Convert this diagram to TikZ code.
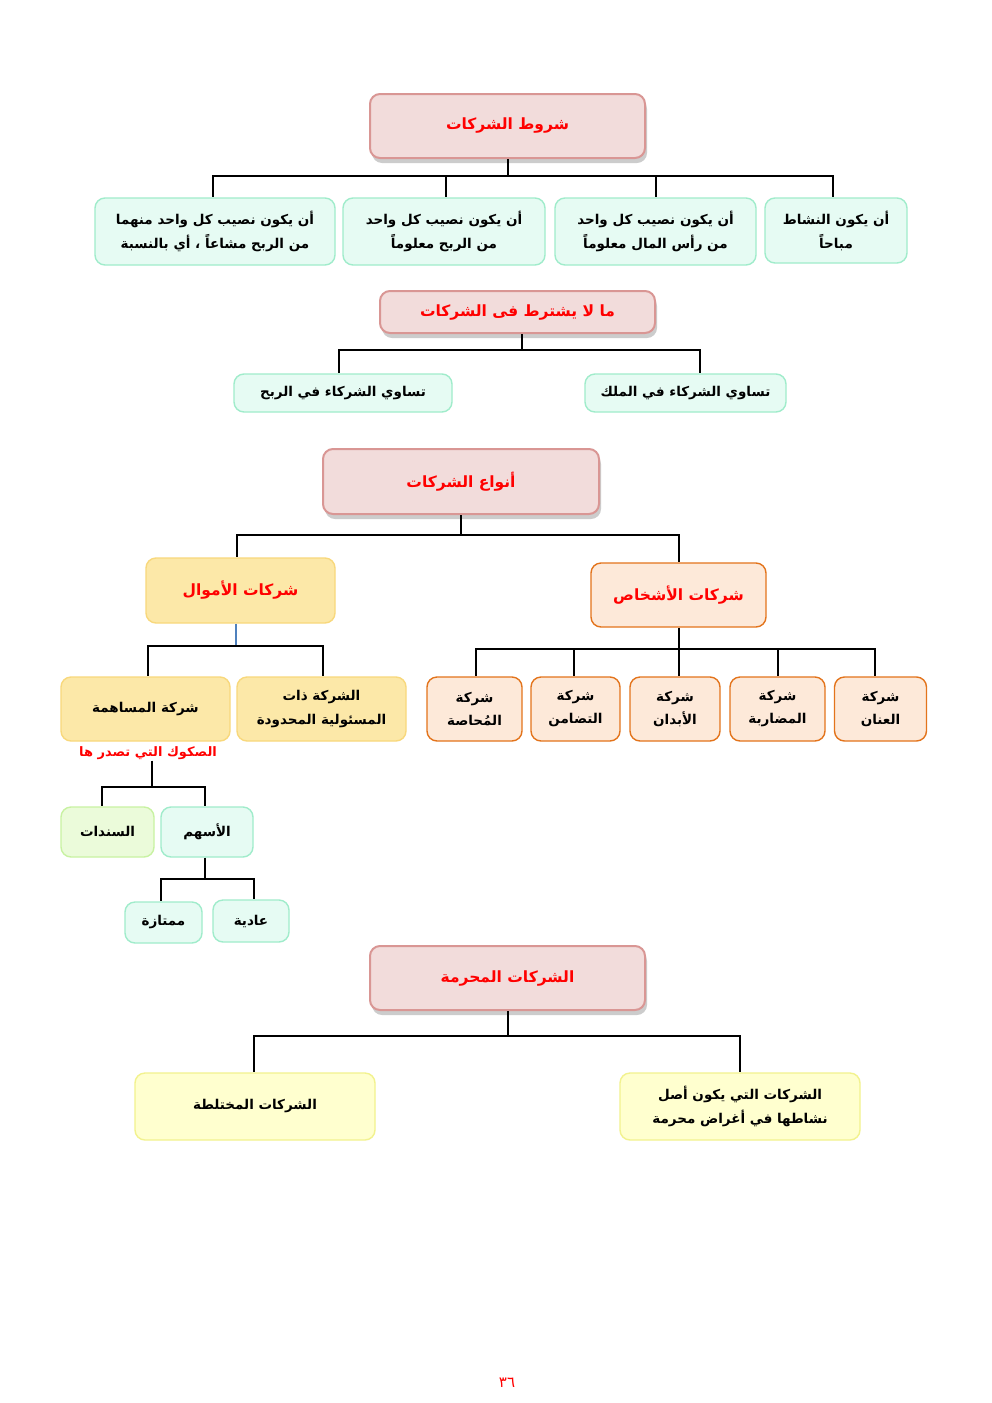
\documentclass[tikz,border=0pt]{standalone}
\usepackage{fontspec}
\usetikzlibrary{shadows}
\TeXXeTstate=1
\newfontfamily\arabicfont[Script=Arabic]{DejaVu Sans}
\newcommand{\ar}[1]{{\arabicfont\bfseries\beginR #1\endR}}
\definecolor{pinkfill}{HTML}{F2DCDB}
\definecolor{pinkdraw}{HTML}{D99694}
\definecolor{mintfill}{HTML}{E6FBF3}
\definecolor{mintdraw}{HTML}{A0ECCB}
\definecolor{goldfill}{HTML}{FCE8A8}
\definecolor{golddraw}{HTML}{F8D87C}
\definecolor{orfill}{HTML}{FDE9D9}
\definecolor{ordraw}{HTML}{E3741C}
\definecolor{grfill}{HTML}{EBFBDA}
\definecolor{grdraw}{HTML}{C8F2A2}
\definecolor{yelfill}{HTML}{FFFFCF}
\definecolor{yeldraw}{HTML}{F2F28E}
\definecolor{redtext}{HTML}{FF0000}
\definecolor{linkblue}{HTML}{4F81BD}
\tikzset{
  basebox/.style={rounded corners=10pt, line width=1.4pt, align=center, inner sep=2pt, font=\fontsize{13.5}{24}\selectfont},
  titlefont/.style={font=\fontsize{15.5}{20}\selectfont},
  titlebox/.style={basebox, fill=pinkfill, draw=pinkdraw, line width=2pt, text=redtext, titlefont,
     drop shadow={opacity=0.4, shadow xshift=2pt, shadow yshift=-5pt}},
  mintbox/.style={basebox, fill=mintfill, draw=mintdraw},
  goldbox/.style={basebox, fill=goldfill, draw=golddraw},
  goldtitle/.style={basebox, fill=goldfill, draw=golddraw, text=redtext, titlefont},
  orbox/.style={basebox, fill=orfill, draw=ordraw, font=\fontsize{13.5}{23}\selectfont},
  ortitle/.style={basebox, fill=orfill, draw=ordraw, text=redtext, titlefont},
  grbox/.style={basebox, fill=grfill, draw=grdraw},
  yelbox/.style={basebox, fill=yelfill, draw=yeldraw},
  link/.style={line width=2pt, black},
  bluelink/.style={line width=1.2pt, linkblue},
}
\begin{document}
\begin{tikzpicture}[x=1pt, y=-1pt]
\useasboundingbox[fill=white] (0,0) rectangle (992,1403);

% --- Section 1
\node[titlebox, minimum width=275pt, minimum height=64pt] (t1) at (507.5,126) {\ar{شروط الشركات}};
\node[mintbox, minimum width=240pt, minimum height=67pt] (c1a) at (215,231.5) {\ar{أن يكون نصيب كل واحد منهما}\\\ar{من الربح مشاعاً ، أي بالنسبة}};
\node[mintbox, minimum width=202pt, minimum height=67pt] (c1b) at (444,231.5) {\ar{أن يكون نصيب كل واحد}\\\ar{من الربح معلوماً}};
\node[mintbox, minimum width=201pt, minimum height=67pt] (c1c) at (655.5,231.5) {\ar{أن يكون نصيب كل واحد}\\\ar{من رأس المال معلوماً}};
\node[mintbox, minimum width=142pt, minimum height=65pt] (c1d) at (836,230.5) {\ar{أن يكون النشاط}\\\ar{مباحاً}};
\coordinate (b1) at (507.5,176);
\draw[link] (t1.south) -- (b1);
\draw[link] (b1) -| ([xshift=-2pt]c1a.north);
\draw[link] (b1) -| ([xshift=2pt]c1b.north);
\draw[link] (b1) -| (c1c.north);
\draw[link] (b1) -| ([xshift=-3pt]c1d.north);

% --- Section 2
\node[titlebox, minimum width=275pt, minimum height=42pt] (t2) at (517.5,312) {\ar{ما لا يشترط فى الشركات}};
\node[mintbox, minimum width=218pt, minimum height=38pt] (c2l) at (343,393) {\ar{تساوي الشركاء في الربح}};
\node[mintbox, minimum width=201pt, minimum height=38pt] (c2r) at (685.5,393) {\ar{تساوي الشركاء في الملك}};
\coordinate (b2) at (522,350);
\draw[link] (t2.south -| b2) -- (b2);
\draw[link] (b2) -| ([xshift=-4pt]c2l.north);
\draw[link] (b2) -| ([xshift=14.5pt]c2r.north);

% --- Section 3
\node[titlebox, minimum width=276pt, minimum height=65pt] (t3) at (461,481.5) {\ar{أنواع الشركات}};
\node[goldtitle, minimum width=189pt, minimum height=65pt] (amwal) at (240.5,590.5) {\ar{شركات الأموال}};
\node[ortitle, minimum width=175pt, minimum height=64pt] (ashkhas) at (678.5,595) {\ar{شركات الأشخاص}};
\coordinate (b3) at (461,535);
\draw[link] (t3.south) -- (b3);
\draw[link] (b3) -| ([xshift=-3.5pt]amwal.north);
\draw[link] (b3) -| (ashkhas.north);

% companies of money
\node[goldbox, minimum width=169pt, minimum height=64pt] (mus) at (145.5,709) {\ar{شركة المساهمة}};
\node[goldbox, minimum width=169pt, minimum height=64pt] (dhat) at (321.5,709) {\ar{الشركة ذات}\\\ar{المسئولية المحدودة}};
\coordinate (b4) at (236,646);
\draw[bluelink] (amwal.south -| b4) -- (b4);
\draw[link] (b4) -| ([xshift=2.5pt]mus.north);
\draw[link] (b4) -| ([xshift=1.5pt]dhat.north);
\node[text=redtext, font=\fontsize{13}{16}\selectfont, inner sep=1pt] (sukuk) at (148,753) {\ar{الصكوك التي تصدر ها}};

\node[grbox, minimum width=93pt, minimum height=50pt] (sanadat) at (107.5,832) {\ar{السندات}};
\node[mintbox, minimum width=92pt, minimum height=50pt] (ashum) at (207,832) {\ar{الأسهم}};
\coordinate (b5) at (152,787);
\draw[link] (sukuk.south -| b5) -- (b5);
\draw[link] (b5) -| ([xshift=-5.5pt]sanadat.north);
\draw[link] (b5) -| ([xshift=-2pt]ashum.north);

\node[mintbox, minimum width=77pt, minimum height=41pt] (mumtaza) at (163.5,922.5) {\ar{ممتازة}};
\node[mintbox, minimum width=76pt, minimum height=42pt] (adia) at (251,921) {\ar{عادية}};
\coordinate (b6) at (205,879);
\draw[link] (ashum.south -| b6) -- (b6);
\draw[link] (b6) -| ([xshift=-2.5pt]mumtaza.north);
\draw[link] (b6) -| ([xshift=3pt]adia.north);

% companies of persons
\node[orbox, minimum width=95pt, minimum height=64pt] (p1) at (474.5,709) {\ar{شركة}\\\ar{المُحاصة}};
\node[orbox, minimum width=89pt, minimum height=64pt] (p2) at (575.5,709) {\ar{شركة}\\\ar{التضامن}};
\node[orbox, minimum width=90pt, minimum height=64pt] (p3) at (675,709) {\ar{شركة}\\\ar{الأبدان}};
\node[orbox, minimum width=95pt, minimum height=64pt] (p4) at (777.5,709) {\ar{شركة}\\\ar{المضاربة}};
\node[orbox, minimum width=92pt, minimum height=64pt] (p5) at (880.5,709) {\ar{شركة}\\\ar{العنان}};
\coordinate (b7) at (678.5,649);
\draw[link] (ashkhas.south) -- (b7);
\draw[link] (b7) -| ([xshift=1.5pt]p1.north);
\draw[link] (b7) -| ([xshift=-1.5pt]p2.north);
\draw[link] (b7) -- (b7 |- p3.north);
\draw[link] (b7) -| (p4.north);
\draw[link] (b7) -| ([xshift=-6pt]p5.north);

% --- Section 4
\node[titlebox, minimum width=275pt, minimum height=64pt] (t4) at (507.5,978) {\ar{الشركات المحرمة}};
\node[yelbox, minimum width=240pt, minimum height=67pt] (mukh) at (255,1106.5) {\ar{الشركات المختلطة}};
\node[yelbox, minimum width=240pt, minimum height=67pt] (muharr) at (740,1106.5) {\ar{الشركات التي يكون أصل}\\\ar{نشاطها في أغراض محرمة}};
\coordinate (b8) at (507.5,1036);
\draw[link] (t4.south) -- (b8);
\draw[link] (b8) -| ([xshift=-1pt]mukh.north);
\draw[link] (b8) -| (muharr.north);

% page number
\node[text=redtext, font=\fontsize{15}{17}\selectfont] (page) at (507,1383) {{\arabicfont\beginR ٣٦\endR}};
\end{tikzpicture}
\end{document}
